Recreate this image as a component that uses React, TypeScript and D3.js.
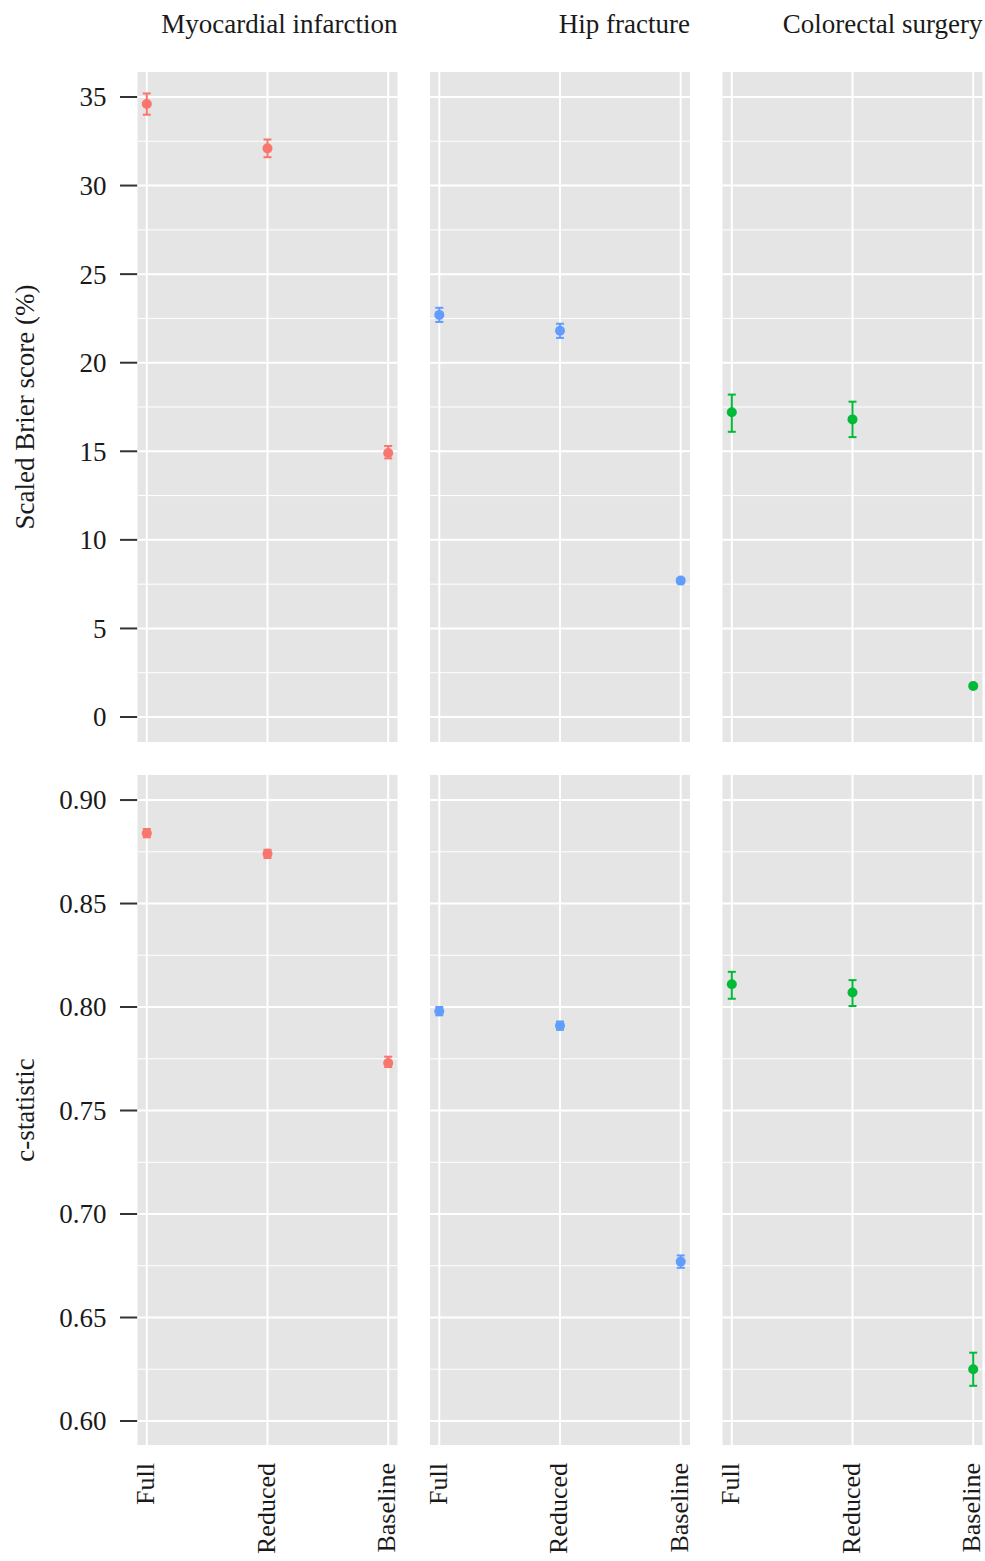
import React from 'react';
import * as d3 from 'd3';

// facet columns and x categories
const outcomes = ["Myocardial infarction", "Hip fracture", "Colorectal surgery"];
const models = ["Full", "Reduced", "Baseline"];
const colors = ["#F8766D", "#619CFF", "#00BA38"];

// scaled Brier score (%) per outcome, order: Full, Reduced, Baseline
const brierEst = [[34.6, 32.1, 14.9], [22.7, 21.8, 7.7], [17.2, 16.8, 1.75]];
const brierLow = [[34.0, 31.6, 14.6], [22.3, 21.4, 7.55], [16.1, 15.8, 1.65]];
const brierHigh = [[35.2, 32.6, 15.3], [23.1, 22.2, 7.85], [18.2, 17.8, 1.85]];

// c-statistic
const cEst = [[0.884, 0.874, 0.773], [0.798, 0.791, 0.677], [0.811, 0.807, 0.625]];
const cLow = [[0.882, 0.872, 0.771], [0.796, 0.789, 0.674], [0.804, 0.8005, 0.617]];
const cHigh = [[0.886, 0.876, 0.776], [0.800, 0.793, 0.680], [0.817, 0.813, 0.633]];

const brierTicks = [0, 5, 10, 15, 20, 25, 30, 35];
const brierMinor = [2.5, 7.5, 12.5, 17.5, 22.5, 27.5, 32.5];
const cTicks = [0.6, 0.65, 0.7, 0.75, 0.8, 0.85, 0.9];
const cMinor = [0.625, 0.675, 0.725, 0.775, 0.825, 0.875];

const W = 985, H = 1561;
const left = 137.5, panelW = 260, gapX = 32.5;
const panelH = 670, gapY = 33;
const rowTop = [72, 72 + panelH + gapY];
const font = "'Liberation Serif', 'Times New Roman', serif";
const fs = 27;

const x = d3.scalePoint<string>().domain(models).range([0, panelW]).padding(0.077);

const rows = [
    {
        title: "Scaled Brier score (%)", est: brierEst, low: brierLow, high: brierHigh,
        ticks: brierTicks, minor: brierMinor, fmt: d3.format("d"),
        y: d3.scaleLinear().domain([-1.41, 36.41]).range([panelH, 0]),
    },
    {
        title: "c-statistic", est: cEst, low: cLow, high: cHigh,
        ticks: cTicks, minor: cMinor, fmt: d3.format(".2f"),
        y: d3.scaleLinear().domain([0.5884, 0.9121]).range([panelH, 0]),
    },
];

const App = () => {
    return (
        <div style={{ position: "absolute", left: 0, top: 0 }}>
            <svg width={W} height={H} style={{ display: "block", background: "#fff" }} fontFamily={font}>
                {/* strip labels, right aligned */}
                {outcomes.map((o, j) => (
                    <text key={o} x={left + j * (panelW + gapX) + panelW} y={33}
                        textAnchor="end" fontSize={fs} fill="#1a1a1a">{o}</text>
                ))}
                {rows.map((r, i) => {
                    const top = rowTop[i];
                    return (
                        <g key={r.title} transform={`translate(0,${top})`}>
                            {/* y axis title */}
                            <text transform={`translate(34,${panelH / 2}) rotate(-90)`}
                                textAnchor="middle" fontSize={fs} fill="#1a1a1a">{r.title}</text>
                            {/* y ticks */}
                            {r.ticks.map((t) => (
                                <g key={t} transform={`translate(0,${r.y(t)})`}>
                                    <line x1={left - 17.5} x2={left} stroke="#333" strokeWidth={2} />
                                    <text x={left - 31} dy="0.35em" textAnchor="end" fontSize={fs} fill="#1a1a1a">{r.fmt(t)}</text>
                                </g>
                            ))}
                            {outcomes.map((o, j) => {
                                const px = left + j * (panelW + gapX);
                                return (
                                    <g key={o} transform={`translate(${px},0)`}>
                                        <rect width={panelW} height={panelH} fill="#E5E5E5" />
                                        {r.minor.map((t) => (
                                            <line key={t} x1={0} x2={panelW} y1={r.y(t)} y2={r.y(t)} stroke="#fff" strokeWidth={1} />
                                        ))}
                                        {r.ticks.map((t) => (
                                            <line key={t} x1={0} x2={panelW} y1={r.y(t)} y2={r.y(t)} stroke="#fff" strokeWidth={2} />
                                        ))}
                                        {models.map((m) => (
                                            <line key={m} x1={x(m)} x2={x(m)} y1={0} y2={panelH} stroke="#fff" strokeWidth={2} />
                                        ))}
                                        {models.map((m, k) => {
                                            const cx = x(m) as number;
                                            const yl = r.y(r.low[j][k]), yh = r.y(r.high[j][k]);
                                            return (
                                                <g key={m} stroke={colors[j]} strokeWidth={2} fill={colors[j]}>
                                                    <line x1={cx} x2={cx} y1={yl} y2={yh} />
                                                    <line x1={cx - 4} x2={cx + 4} y1={yl} y2={yl} />
                                                    <line x1={cx - 4} x2={cx + 4} y1={yh} y2={yh} />
                                                    <circle cx={cx} cy={r.y(r.est[j][k])} r={5} stroke="none" />
                                                </g>
                                            );
                                        })}
                                        {/* x labels under bottom row */}
                                        {i === rows.length - 1 && models.map((m) => (
                                            <text key={m} transform={`translate(${x(m)},${panelH + 18}) rotate(-90)`}
                                                textAnchor="end" dy="0.28em" fontSize={26} fill="#1a1a1a">{m}</text>
                                        ))}
                                    </g>
                                );
                            })}
                        </g>
                    );
                })}
            </svg>
        </div>
    );
};

export default App;
